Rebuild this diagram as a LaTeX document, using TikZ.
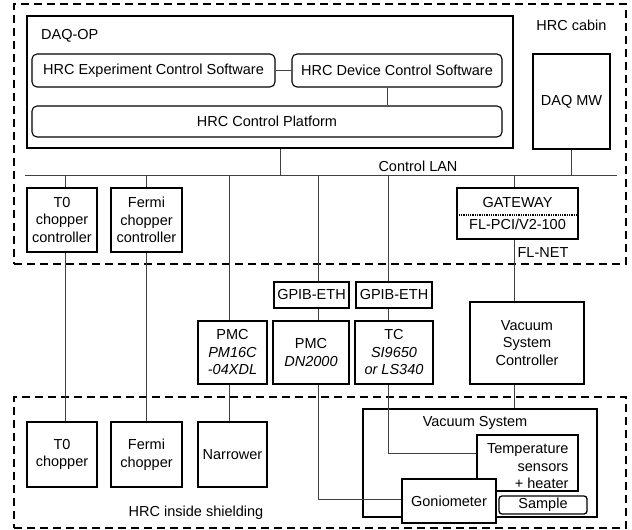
\documentclass[tikz,border=0pt]{standalone}
\usepackage{fontspec}
\setmainfont{Liberation Sans}
\newcommand\bx[7]{\node[#1, minimum width={#5pt-#3pt}, minimum height={#6pt-#4pt}] (#2) at ({(#3+#5)/2},{(#4+#6)/2}) {#7};}
\begin{document}
\begin{tikzpicture}[x=1pt,y=-1pt,
  every node/.style={font=\fontsize{14.5}{17.5}\selectfont},
  box/.style={draw, line width=1.3pt, inner sep=0pt, align=center, fill=white},
  rbox/.style={box, rounded corners=5pt, line width=1.1pt},
  conn/.style={line width=0.6pt, draw=black!75},
  zone/.style={draw, line width=2pt, dash pattern=on 8pt off 5pt, inner sep=0pt},
  lbl/.style={inner sep=0pt}]
\useasboundingbox (0,0) rectangle (632,530);
% zones
\bx{zone}{cabin}{14}{4}{626}{264}{}
\bx{zone}{shield}{14}{397}{626}{528}{}
\node[lbl] (cabinlbl) at (571.5,25) {HRC cabin};
\node[lbl] (shieldlbl) at (196,513) {HRC inside shielding};
% DAQ-OP
\bx{box}{daqop}{27}{16}{513}{148}{}
\node[lbl, anchor=west] (daqoplbl) at (41,36) {DAQ-OP};
\bx{rbox}{expsw}{32}{54}{275}{87}{HRC Experiment Control Software}
\bx{rbox}{devsw}{292}{54}{502}{87}{HRC Device Control Software}
\bx{rbox}{platform}{32}{106}{502}{137}{HRC Control Platform}
\draw[conn] (expsw) -- (devsw);
\draw[conn] ([xshift=-10pt]devsw.south) -- ([xshift=-10pt]devsw.south |- platform.north);
\bx{box}{daqmw}{533}{54}{610}{149}{DAQ MW}
% LAN
\coordinate (lanL) at (25,175);
\coordinate (lanR) at (617,175);
\draw[conn] (lanL) -- (lanR);
\node[lbl] (lanlbl) at (418,166) {Control LAN};
\draw[conn] ([xshift=10pt]daqop.south) -- ([xshift=10pt]daqop.south |- lanL);
\draw[conn] (daqmw.south) -- (daqmw.south |- lanL);
% controllers
\bx{box}{t0cc}{27}{188}{97}{252}{T0\\chopper\\controller}
\bx{box}{fcc}{111}{188}{182}{252}{Fermi\\chopper\\controller}
\bx{box}{gw}{457}{188}{578}{239}{GATEWAY\\[5pt]FL-PCI/V2-100}
\draw[densely dotted, line width=1.3pt] ([yshift=-1.5pt]gw.west) -- ([yshift=-1.5pt]gw.east);
\node[lbl] (flnet) at (543,253) {FL-NET};
\bx{box}{g1}{274}{282}{349}{308}{GPIB-ETH}
\bx{box}{g2}{356}{282}{432}{308}{GPIB-ETH}
\bx{box}{pmc1}{198}{321}{267}{384}{PMC\\\textit{PM16C}\\\textit{-04XDL}}
\bx{box}{pmc2}{273}{321}{349}{384}{PMC\\\textit{DN2000}}
\bx{box}{tc}{355}{321}{433}{384}{TC\\\textit{SI9650}\\\textit{or LS340}}
\bx{box}{vsc}{470}{302}{584}{384}{Vacuum\\System\\Controller}
% shielded devices
\bx{box}{t0ch}{27}{422}{97}{487}{T0\\chopper}
\bx{box}{fch}{111}{422}{182}{487}{Fermi\\chopper}
\bx{box}{narrow}{198}{422}{267}{487}{Narrower}
\bx{box}{vac}{363}{409}{597}{517}{}
\node[lbl] (vaclbl) at (475,423) {Vacuum System};
\bx{box, label={[anchor=north east, align=right, inner sep=0pt, xshift=-10pt, yshift=-9pt]north east:Temperature\\sensors\\+ heater}}{temp}{477}{435}{578}{491}{}
% connectors
\draw[conn] ([xshift=3pt]t0cc.north |- lanL) -- ([xshift=3pt]t0cc.north);
\draw[conn] ([xshift=3pt]t0cc.south) -- ([xshift=3pt]t0ch.north);
\draw[conn] (fcc.north |- lanL) -- (fcc.north);
\draw[conn] (fcc.south) -- (fch.north);
\draw[conn] ([xshift=-3.5pt]pmc1.north |- lanL) -- ([xshift=-3.5pt]pmc1.north);
\draw[conn] ([xshift=-3.5pt]pmc1.south) -- ([xshift=-3.5pt]narrow.north);
\draw[conn] ([xshift=6.5pt]g1.north |- lanL) -- ([xshift=6.5pt]g1.north);
\draw[conn] ([xshift=6.5pt]g1.south) -- ([xshift=7pt]pmc2.north);
\draw[conn] ([xshift=-6pt]g2.north |- lanL) -- ([xshift=-6pt]g2.north);
\draw[conn] ([xshift=-6pt]g2.south) -- ([xshift=-6pt]tc.north);
\draw[conn] ([xshift=-6pt]tc.south) |- ([yshift=10pt]temp.west);
\draw[conn] ([xshift=-3.5pt]gw.north |- lanL) -- ([xshift=-3.5pt]gw.north);
\draw[conn] ([xshift=-3.5pt]gw.south) -- ([xshift=-3.5pt]gw.south |- vsc.north);
\draw[conn] ([xshift=-13pt]vsc.south) -- ([xshift=-13pt]vsc.south |- vac.north);
\bx{box}{gonio}{402}{479}{496}{523}{Goniometer}
\draw[conn] ([xshift=7pt]pmc2.south) |- ([yshift=2pt]gonio.west);
\bx{box, rounded corners=3pt}{sample}{499}{496}{587}{514}{Sample}
\end{tikzpicture}
\end{document}
